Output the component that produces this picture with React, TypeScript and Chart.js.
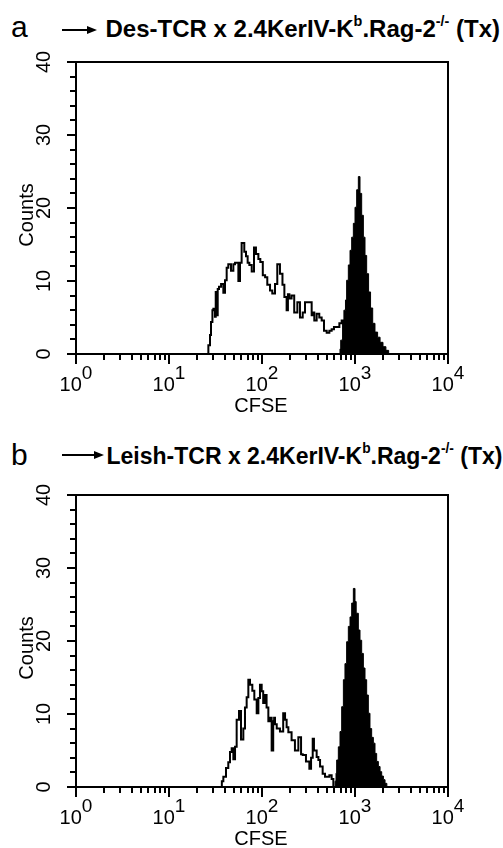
import React, { useEffect, useRef } from "react";
import { Chart, registerables } from "chart.js";

Chart.register(...registerables);

const FONT = '"Liberation Sans", Arial, Helvetica, sans-serif';

// ---------------- Panel a ----------------
const openA_x = [
  26.5, 27.6, 28.3, 29.3, 30.0, 31.2, 31.8, 32.6, 33.4, 34.5,
  36.3, 38.4, 40.0, 41.7, 43.4, 46.4, 49.2, 51.3, 55.7, 58.0,
  60.4, 64.5, 67.3, 70.1, 73.1, 77.5, 82.0, 86.1, 91.4, 95.9,
  102, 108, 114, 122, 129, 138, 146, 156, 166, 174,
  184, 190, 197, 208, 222, 240, 256, 274, 290, 315,
  342, 352, 365, 387, 413, 438, 464, 496, 530, 561,
  594, 635, 679, 719, 750, 820,
];
const openA_y = [
  0, 1.2, 2.6, 4.4, 6.0, 6.2, 5.1, 8.5, 5.3, 8.9,
  9.2, 9.6, 8.4, 10.1, 11.8, 12.3, 11.4, 12.3, 12.5, 10.0,
  12.5, 15.2, 14.0, 13.4, 12.5, 12.2, 11.3, 14.6, 13.7, 13.0,
  12.6, 10.8, 10.5, 9.5, 8.7, 8.3, 9.6, 12.3, 11.0, 9.5,
  7.8, 6.0, 8.2, 7.6, 8.0, 5.7, 7.1, 5.0, 5.7, 7.1,
  7.1, 5.3, 5.7, 4.6, 5.5, 5.0, 4.6, 3.2, 2.9, 3.2,
  3.4, 3.7, 3.7, 4.2, 4.6, 0,
];
const filledA_x = [
  690, 702, 737, 760, 790, 813, 848, 884, 921, 960,
  1000, 1042, 1086, 1132, 1180, 1230, 1281, 1335, 1400, 1470,
  1550, 1640, 1750, 1860, 2000, 2150, 2300, 2420,
];
const filledA_y = [
  0, 0.7, 1.9, 4.5, 6.0, 7.4, 10.1, 12.2, 14.2, 16.0,
  17.9, 20.1, 22.5, 24.3, 22.0, 19.0, 16.0, 13.5, 11.0, 8.5,
  6.3, 4.2, 3.0, 2.3, 1.6, 1.0, 0.5, 0,
];

// ---------------- Panel b ----------------
const openB_x = [
  37, 38.4, 41.0, 43.4, 45.3, 47.2, 49.2, 51.3, 53.4, 56.6,
  59.5, 63.0, 65.6, 68.4, 71.3, 74.3, 78.7, 82.7, 87.7, 91.4,
  95.1, 99.2, 103, 108, 112, 117, 122, 127, 132, 135,
  138, 144, 156, 169, 177, 184, 192, 208, 226, 246,
  263, 274, 297, 323, 337, 351, 362, 387, 404, 421,
  449, 476, 496, 530, 561, 585, 640,
];
const openB_y = [
  0, 0.8, 1.4, 2.6, 3.4, 4.8, 5.3, 3.8, 5.5, 9.2,
  10.4, 6.5, 8.0, 10.9, 12.3, 14.7, 14.0, 13.2, 12.0, 10.1,
  12.2, 14.0, 13.1, 11.5, 12.6, 10.9, 9.0, 9.5, 5.0, 9.0,
  9.5, 8.6, 8.0, 7.6, 10.1, 9.2, 8.2, 7.5, 6.4, 5.0,
  6.8, 4.5, 4.4, 3.5, 2.5, 4.0, 6.6, 5.0, 4.1, 3.7,
  2.8, 1.8, 1.4, 1.4, 1.6, 1.1, 0,
];
const filledB_x = [
  610, 625, 635, 662, 690, 719, 750, 780, 813, 848,
  884, 921, 960, 1000, 1030, 1086, 1132, 1180, 1230, 1281,
  1335, 1391, 1449, 1511, 1575, 1641, 1710, 1783, 1860, 1937,
  2020, 2104, 2200, 2282,
];
const filledB_y = [
  0, 0.8, 1.9, 3.7, 5.5, 7.6, 11.0, 14.7, 16.9, 19.9,
  22.0, 23.3, 25.2, 27.2, 25.4, 23.8, 21.5, 20.1, 18.3, 16.3,
  14.7, 12.6, 10.1, 8.0, 6.8, 6.0, 4.6, 3.5, 2.8, 2.1,
  1.5, 1.0, 0.5, 0,
];

// ---------------- Axes ----------------
const yMin = 0;
const yMax = 40;
const yMajorTicks = [0, 10, 20, 30, 40];
const yMinorStep = 2;
const xMin = 1;
const xMax = 10000;
const xDecadeExponents = [0, 1, 2, 3, 4];
const xAxisTitle = "CFSE";
const yAxisTitle = "Counts";

const zip = (xs: number[], ys: number[]) => xs.map((x, i) => ({ x, y: ys[i] }));

const flowAxesPlugin = {
  id: "flowAxes",
  afterDatasetsDraw(chart: any) {
    const ctx: CanvasRenderingContext2D = chart.ctx;
    const { left, right, top, bottom } = chart.chartArea;
    const xs = chart.scales.x;
    const ys = chart.scales.y;
    ctx.save();
    ctx.strokeStyle = "#000";
    ctx.fillStyle = "#000";
    ctx.lineWidth = 2;
    ctx.strokeRect(left, top, right - left, bottom - top);

    // y ticks
    ctx.beginPath();
    for (let v = yMin; v <= yMax; v += yMinorStep) {
      const py = Math.round(ys.getPixelForValue(v));
      const len = yMajorTicks.includes(v) ? 9 : 6;
      ctx.moveTo(left - len, py);
      ctx.lineTo(left, py);
    }
    // x ticks (log)
    for (let k = 0; k < xDecadeExponents.length; k++) {
      const e = xDecadeExponents[k];
      for (let m = 1; m <= 9; m++) {
        if (k === xDecadeExponents.length - 1 && m > 1) break;
        const v = m * Math.pow(10, e);
        const px = Math.round(xs.getPixelForValue(v));
        const len = m === 1 ? 10 : 6;
        ctx.moveTo(px, bottom);
        ctx.lineTo(px, bottom + len);
      }
    }
    ctx.stroke();

    // y labels (rotated)
    ctx.font = `20px ${FONT}`;
    ctx.textAlign = "center";
    ctx.textBaseline = "alphabetic";
    for (const v of yMajorTicks) {
      const py = ys.getPixelForValue(v);
      ctx.save();
      ctx.translate(left - 26, py);
      ctx.rotate(-Math.PI / 2);
      ctx.fillText(String(v), 0, 0);
      ctx.restore();
    }
    // y title
    ctx.save();
    ctx.translate(left - 43, (top + bottom) / 2 + 7);
    ctx.rotate(-Math.PI / 2);
    ctx.fillText(yAxisTitle, 0, 0);
    ctx.restore();

    // x labels with superscripts
    ctx.textAlign = "left";
    for (const e of xDecadeExponents) {
      const px = xs.getPixelForValue(Math.pow(10, e));
      ctx.font = `20px ${FONT}`;
      const wb = ctx.measureText("10").width;
      ctx.font = `19px ${FONT}`;
      const ws = ctx.measureText(String(e)).width;
      const start = px - (wb + ws) / 2;
      ctx.font = `20px ${FONT}`;
      ctx.fillText("10", start, bottom + 37);
      ctx.font = `19px ${FONT}`;
      ctx.fillText(String(e), start + wb, bottom + 25);
    }
    // x title
    ctx.font = `20px ${FONT}`;
    ctx.textAlign = "center";
    ctx.fillText(xAxisTitle, (left + right) / 2 - 1, bottom + 58);
    ctx.restore();
  },
};

function HistogramChart(props: {
  openX: number[];
  openY: number[];
  fillX: number[];
  fillY: number[];
  height: number;
  padBottom: number;
}) {
  const ref = useRef<HTMLCanvasElement | null>(null);
  useEffect(() => {
    if (!ref.current) return;
    const chart = new Chart(ref.current, {
      type: "line",
      data: {
        datasets: [
          {
            data: zip(props.fillX, props.fillY),
            stepped: "after",
            borderColor: "#000",
            backgroundColor: "#000",
            borderWidth: 1,
            pointRadius: 0,
            fill: "origin",
          },
          {
            data: zip(props.openX, props.openY),
            stepped: "after",
            borderColor: "#000",
            borderWidth: 2,
            pointRadius: 0,
            fill: false,
          },
        ],
      },
      options: {
        animation: false,
        responsive: false,
        maintainAspectRatio: false,
        events: [],
        layout: { padding: { left: 76, right: 55, top: 18, bottom: props.padBottom } },
        scales: {
          x: { type: "logarithmic", min: xMin, max: xMax, display: false },
          y: { type: "linear", min: yMin, max: yMax, display: false },
        },
        plugins: { legend: { display: false }, tooltip: { enabled: false } },
      },
      plugins: [flowAxesPlugin],
    } as any);
    return () => chart.destroy();
  }, []);
  return (
    <canvas
      ref={ref}
      width={503}
      height={props.height}
      style={{ display: "block", width: 503, height: props.height }}
    />
  );
}

function Arrow({ y, x0, x1 }: { y: number; x0: number; x1: number }) {
  return (
    <>
      <div style={{ position: "absolute", left: x0, top: y - 1, width: x1 - x0 - 8, height: 2, background: "#000" }} />
      <div
        style={{
          position: "absolute",
          left: x1 - 10,
          top: y - 4,
          width: 0,
          height: 0,
          borderTop: "4px solid transparent",
          borderBottom: "4px solid transparent",
          borderLeft: "10px solid #000",
        }}
      />
    </>
  );
}

const supStyle: React.CSSProperties = { fontSize: "0.6em", position: "relative", top: "-0.75em" };

function TitleText({ name, left, top, size }: { name: string; left: number; top: number; size: number }) {
  return (
    <div
      style={{
        position: "absolute",
        left,
        top,
        fontFamily: FONT,
        fontWeight: "bold",
        fontSize: size,
        lineHeight: 1,
        whiteSpace: "nowrap",
        color: "#000",
      }}
    >
      {name} x 2.4KerIV-K<span style={supStyle}>b</span>.Rag-2<span style={supStyle}>-/-</span> (Tx)
    </div>
  );
}

function Letter({ ch, left, top }: { ch: string; left: number; top: number }) {
  return (
    <div style={{ position: "absolute", left, top, fontFamily: FONT, fontSize: 30, lineHeight: 1, color: "#000" }}>
      {ch}
    </div>
  );
}

export default function App() {
  return (
    <div
      style={{
        position: "absolute",
        left: 0,
        top: 0,
        width: 503,
        height: 848,
        overflow: "hidden",
        background: "#fff",
      }}
    >
      <Letter ch="a" left={11} top={11.6} />
      <Arrow y={30} x0={62} x1={97} />
      <TitleText name="Des-TCR" left={105.5} top={16.7} size={24} />
      <div style={{ position: "absolute", left: 0, top: 44 }}>
        <HistogramChart openX={openA_x} openY={openA_y} fillX={filledA_x} fillY={filledA_y} height={380} padBottom={70} />
      </div>

      <Letter ch="b" left={11} top={439.6} />
      <Arrow y={455} x0={62} x1={104} />
      <TitleText name="Leish-TCR" left={106.5} top={444.5} size={23} />
      <div style={{ position: "absolute", left: 0, top: 477 }}>
        <HistogramChart openX={openB_x} openY={openB_y} fillX={filledB_x} fillY={filledB_y} height={371} padBottom={61} />
      </div>
    </div>
  );
}
